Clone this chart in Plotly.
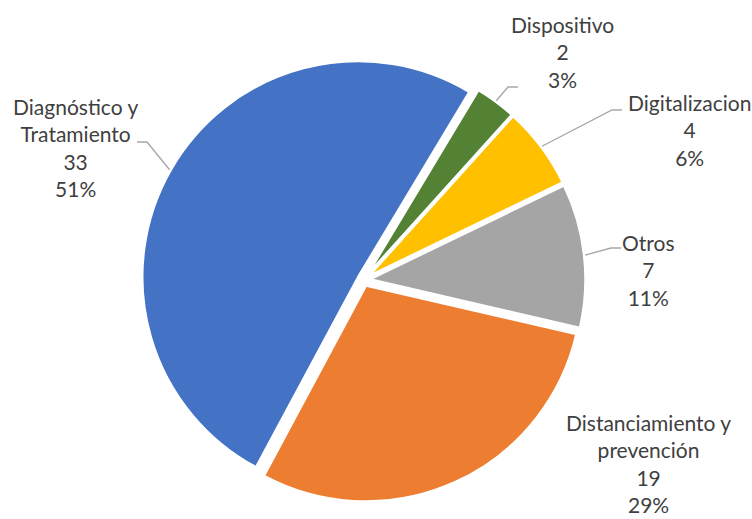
import math
import plotly.graph_objects as go

labels = ["Dispositivo", "Digitalizacion", "Otros", "Distanciamiento y<br>prevención", "Diagnóstico y<br>Tratamiento"]
values = [2, 4, 7, 19, 33]
colors = ["#548235", "#FFC000", "#A5A5A5", "#ED7D31", "#4472C4"]

# layout constants (pixels)
W, H = 752, 519
CX, CY, R = 363.5, 280, 216
PULL = 0.028
ROT = 31
# label text centres and leader-line ends (pixels); None = no leader line
label_pos = [(562, 52), (689, 130), (648, 270), (648, 463), (75, 147)]
line_end = [(518, 87), (622, 110), (621, 248), None, (137, 142)]

half = R * (1 + PULL)
dom_x = [(CX - half) / W, (CX + half) / W]
dom_y = [1 - (CY + half) / H, 1 - (CY - half) / H]

fig = go.Figure(go.Pie(
    labels=labels, values=values, sort=False, direction="clockwise", rotation=ROT,
    marker=dict(colors=colors, line=dict(color="white", width=2.5)),
    pull=[PULL] * len(values),
    textinfo="none",
    domain=dict(x=dom_x, y=dom_y),
    showlegend=False, hoverinfo="label+value+percent",
))

total = sum(values)
cum = 0
shapes, annotations = [], []
for lab, v, pos, end in zip(labels, values, label_pos, line_end):
    mid = ROT + (cum + v / 2) / total * 360
    cum += v
    pct = round(v / total * 100)
    annotations.append(dict(
        x=pos[0] / W, y=1 - pos[1] / H, xref="paper", yref="paper",
        text=f"{lab}<br>{v}<br>{pct}%", showarrow=False,
        font=dict(family="Lato", size=21, color="#404040"), align="center",
        xanchor="center", yanchor="middle",
    ))
    if end is not None:
        a = math.radians(mid)
        rr = R * (1 + PULL) + 1
        tx, ty = CX + rr * math.sin(a), CY - rr * math.cos(a)
        side = 1 if end[0] > CX else -1
        ex = end[0] - side * 10
        path = (f"M {tx / W} {1 - ty / H} L {ex / W} {1 - end[1] / H} "
                f"L {end[0] / W} {1 - end[1] / H}")
        shapes.append(dict(type="path", xref="paper", yref="paper", path=path,
                           line=dict(color="#A6A6A6", width=1.3)))

fig.update_layout(width=W, height=H, margin=dict(l=0, r=0, t=0, b=0),
                  paper_bgcolor="white", plot_bgcolor="white",
                  shapes=shapes, annotations=annotations)
fig.write_html("out.html", config={"displayModeBar": False},
               post_script="document.body.style.margin='0';")
